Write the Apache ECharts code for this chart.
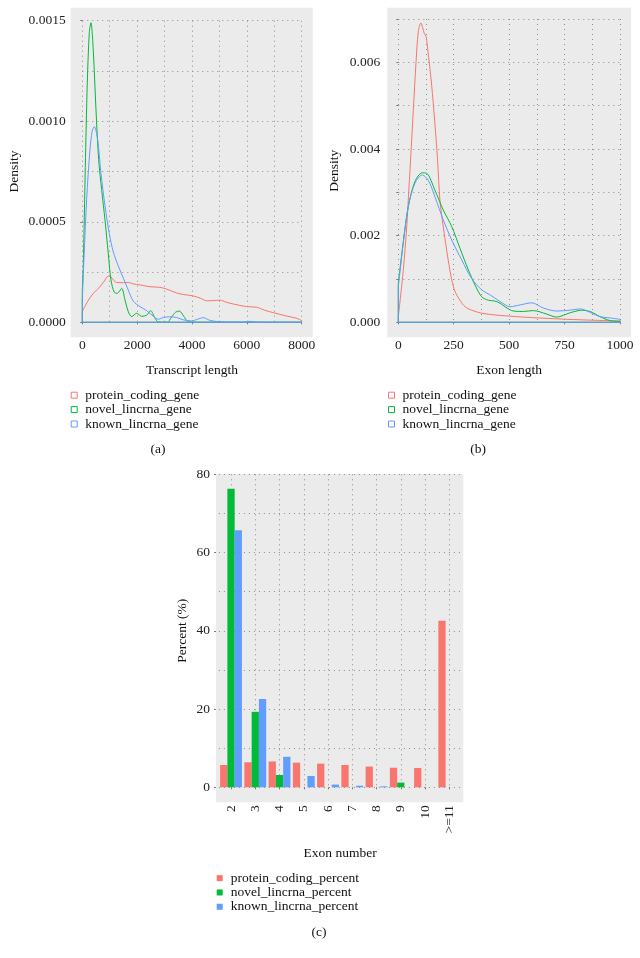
<!DOCTYPE html>
<html><head><meta charset="utf-8">
<script src="https://cdn.jsdelivr.net/npm/echarts@6/dist/echarts.min.js"></script>
<style>html,body{margin:0;padding:0;background:#fff}#c{width:640px;height:958px}</style>
</head><body><div id="c"></div>
<script>
// ---------- DATA ----------
const densityNames = ['protein_coding_gene', 'novel_lincrna_gene', 'known_lincrna_gene'];
const barNames = ['protein_coding_percent', 'novel_lincrna_percent', 'known_lincrna_percent'];

// (a) Transcript length density  [length, density]
const transcriptProtein = [[0,0.000053],[200,0.000105],[401,0.000144],[644,0.000177],[800,0.000205],[948,0.00023],[1050,0.000225],[1150,0.000208],[1254,0.000198],[1495,0.000197],[1677,0.000198],[1860,0.000191],[2104,0.000186],[2468,0.000177],[2833,0.000174],[3076,0.000165],[3441,0.000146],[3700,0.000138],[4048,0.000131],[4300,0.00012],[4535,0.000107],[4780,0.000108],[5020,0.00011],[5250,0.0001],[5505,0.000091],[5993,0.000078],[6358,0.000075],[6650,0.00006],[6963,0.000048],[7451,0.000031],[7816,0.00002],[8000,0.000008]];
const transcriptNovel = [[0,0.00016],[36,0.00028],[109,0.00077],[182,0.00119],[255,0.00144],[316,0.00149],[401,0.00135],[498,0.00106],[596,0.00081],[705,0.00066],[827,0.00051],[948,0.00034],[1046,0.00021],[1167,0.000149],[1277,0.000144],[1435,0.000169],[1556,0.000111],[1678,0.000053],[1800,0.000028],[1982,0.000045],[2164,0.00003],[2347,0.000035],[2492,0.000058],[2650,0.00002],[2772,0.000002],[3100,0],[3250,0.000025],[3400,0.00005],[3537,0.000056],[3700,0.00003],[3870,0.000002],[4200,0],[8000,0]];
const transcriptKnown = [[0,0.00011],[40,0.00025],[158,0.00061],[280,0.00086],[360,0.00095],[438,0.000973],[559,0.00091],[681,0.00074],[827,0.00058],[985,0.00044],[1131,0.00035],[1313,0.00028],[1495,0.00022],[1678,0.00016],[1860,0.000105],[2104,0.000078],[2347,0.000058],[2590,0.00003],[2772,0.000015],[2954,0.000024],[3200,0.000027],[3440,0.000024],[3684,0.000012],[3988,0.000007],[4200,0.000015],[4413,0.000023],[4650,0.00001],[4900,0.000004],[5300,0.000001],[5900,0.000001],[6114,0.000005],[6358,0.000001],[8000,0]];

// (b) Exon length density  [length, density]
const exonProtein = [[0,0.00013],[22.5,0.0012],[38,0.0022],[48,0.0031],[56,0.0038],[67.7,0.0049],[80,0.006],[90,0.0067],[102,0.00691],[110,0.0068],[117,0.00667],[125,0.0066],[135,0.0062],[150,0.0055],[165,0.0046],[177,0.00375],[188,0.0028],[203,0.0022],[225,0.00144],[241,0.00098],[256,0.00071],[278,0.00051],[301,0.00036],[331,0.00028],[376,0.00021],[436,0.00017],[481,0.00015],[564,0.00012],[714,0.00008],[865,0.00005],[1000,0.00003]];
const exonNovel = [[0,0.0009],[22.5,0.00186],[45,0.00267],[75,0.00325],[108,0.00345],[128,0.00344],[165,0.00305],[203,0.00259],[241,0.00221],[278,0.00171],[316,0.00121],[346,0.00086],[376,0.00059],[406,0.00051],[436,0.00049],[459,0.00044],[481,0.00036],[519,0.00026],[564,0.00025],[609,0.00027],[669,0.00019],[714,0.00012],[775,0.00022],[828,0.00028],[865,0.00025],[910,0.00013],[955,0.00004],[1000,0.00002]];
const exonKnown = [[0,0.00082],[22.5,0.00182],[45,0.00267],[75,0.00321],[108,0.0034],[135,0.00328],[165,0.0029],[203,0.00236],[241,0.0019],[286,0.00144],[331,0.00101],[376,0.00075],[421,0.00061],[459,0.00048],[504,0.00036],[549,0.0004],[602,0.00045],[654,0.00033],[714,0.00026],[775,0.00028],[820,0.00031],[865,0.00023],[910,0.00013],[955,0.0001],[1000,0.00007]];

// (c) Exon number percentages
const exonCategories = ['2','3','4','5','6','7','8','9','10','>=11'];
const proteinPercent = [5.7, 6.4, 6.6, 6.3, 6.05, 5.7, 5.3, 5.0, 4.95, 42.6];
const novelPercent   = [76.3, 19.3, 3.15, 0, 0, 0, 0, 1.2, 0, 0];
const knownPercent   = [65.7, 22.6, 7.8, 2.9, 0.7, 0.4, 0.25, 0, 0, 0];

// tick labels
const transcriptTicks = [0, 2000, 4000, 6000, 8000];
const densityTicksA = [0, 0.0005, 0.0010, 0.0015];
const exonLengthTicks = [0, 250, 500, 750, 1000];
const densityTicksB = [0, 0.002, 0.004, 0.006];
const densityTopB = 0.007;
const percentTicks = [0, 20, 40, 60, 80];

// ---------- STYLE ----------
const FONT = 'Liberation Serif';
const FS = 13.5;
const COLORS = ['#F8766D', '#00BA38', '#619CFF'];
const BG = '#EBEBEB';
const dotted = {show: true, lineStyle: {color: '#8c8c8c', width: 1, type: [1, 4]}};
const tickLbl = {fontFamily: FONT, fontSize: FS, color: '#222'};
const nameTxt = {fontFamily: FONT, fontSize: FS, color: '#111'};
const plain = v => String(v);

function valueAxis(o) {
  return Object.assign({
    type: 'value',
    axisLine: {show: false},
    axisTick: {show: true, length: 2, lineStyle: {color: '#777'}},
    minorTick: {show: false, splitNumber: 2},
    splitLine: dotted,
    minorSplitLine: dotted,
    nameLocation: 'middle',
    nameTextStyle: nameTxt
  }, o);
}

const densitySets = [
  [transcriptProtein, transcriptNovel, transcriptKnown],
  [exonProtein, exonNovel, exonKnown]
];

const series = [];
densitySets.forEach((sets, gi) => {
  sets.forEach((pts, i) => {
    series.push({
      type: 'line', name: densityNames[i], xAxisIndex: gi, yAxisIndex: gi,
      data: pts, showSymbol: false, symbol: 'none', smooth: 0.3, clip: false,
      lineStyle: {color: COLORS[i], width: 1}, itemStyle: {color: COLORS[i]},
      silent: true, z: 2 + i
    });
    const first = pts[0], last = pts[pts.length - 1];
    series.push({
      type: 'line', name: densityNames[i], xAxisIndex: gi, yAxisIndex: gi,
      data: [[first[0], first[1]], [first[0], 0], [last[0], 0], [last[0], last[1]]],
      showSymbol: false, symbol: 'none', clip: false,
      lineStyle: {color: COLORS[i], width: 1}, itemStyle: {color: COLORS[i]},
      silent: true, z: 2 + i
    });
  });
});
[proteinPercent, novelPercent, knownPercent].forEach((vals, i) => {
  series.push({
    type: 'bar', name: barNames[i], xAxisIndex: 2, yAxisIndex: 2,
    data: vals, barGap: '0%', barCategoryGap: '10%',
    itemStyle: {color: COLORS[i]}, silent: true
  });
});

const hollowLegend = (left) => ({
  orient: 'vertical', left: left, top: 388, padding: 0, itemGap: 0,
  icon: 'rect', itemWidth: 6, itemHeight: 6, selectedMode: false,
  textStyle: {fontFamily: FONT, fontSize: FS, color: '#111', lineHeight: 14.4, padding: [0, 0, 0, 3]},
  data: densityNames.map((n, i) => ({name: n, icon: 'rect',
    itemStyle: {color: 'rgba(0,0,0,0)', borderColor: COLORS[i], borderWidth: 1}}))
});

const option = {
  animation: false,
  backgroundColor: '#fff',
  grid: [
    {left: 82.3, top: 20.7, width: 219.4, height: 301.6, outerBoundsMode: 'none'},
    {left: 398.3, top: 19, width: 221.7, height: 303.3, outerBoundsMode: 'none'},
    {left: 218.9, top: 474.3, width: 242.5, height: 313, outerBoundsMode: 'none'}
  ],
  xAxis: [
    valueAxis({gridIndex: 0, min: transcriptTicks[0], max: transcriptTicks[transcriptTicks.length - 1],
      interval: transcriptTicks[1] - transcriptTicks[0], offset: 15,
      axisLabel: Object.assign({margin: 1, formatter: plain}, tickLbl),
      name: 'Transcript length', nameGap: 26}),
    valueAxis({gridIndex: 1, min: exonLengthTicks[0], max: exonLengthTicks[exonLengthTicks.length - 1],
      interval: exonLengthTicks[1] - exonLengthTicks[0], offset: 15,
      axisLabel: Object.assign({margin: 1, formatter: plain}, tickLbl),
      name: 'Exon length', nameGap: 26}),
    {type: 'category', gridIndex: 2, data: exonCategories, offset: 14.9,
      axisLine: {show: false},
      axisTick: {show: true, alignWithLabel: true, length: 2, lineStyle: {color: '#777'}},
      splitLine: Object.assign({alignWithLabel: true}, dotted),
      axisLabel: Object.assign({rotate: 90, margin: 3, interval: 0}, tickLbl),
      name: 'Exon number', nameLocation: 'middle', nameGap: 44, nameTextStyle: nameTxt}
  ],
  yAxis: [
    valueAxis({gridIndex: 0, min: densityTicksA[0], max: densityTicksA[densityTicksA.length - 1],
      interval: densityTicksA[1] - densityTicksA[0], offset: 11.6,
      axisLabel: Object.assign({margin: 5, formatter: v => v.toFixed(4)}, tickLbl),
      name: 'Density', nameGap: 49, nameRotate: 90}),
    valueAxis({gridIndex: 1, min: densityTicksB[0], max: densityTopB,
      interval: (densityTicksB[1] - densityTicksB[0]) / 2, offset: 11.1,
      minorSplitLine: {show: false},
      axisLabel: Object.assign({margin: 7, formatter: v =>
        densityTicksB.some(t => Math.abs(t - v) < 1e-9) ? v.toFixed(3) : ''}, tickLbl),
      name: 'Density', nameGap: 46, nameRotate: 90}),
    valueAxis({gridIndex: 2, min: percentTicks[0], max: percentTicks[percentTicks.length - 1],
      interval: percentTicks[1] - percentTicks[0], offset: 2.9,
      axisLabel: Object.assign({margin: 6}, tickLbl),
      name: 'Percent (%)', nameGap: 26.8, nameRotate: 90})
  ],
  legend: [
    hollowLegend(70.7),
    hollowLegend(388),
    {orient: 'vertical', left: 216.7, top: 871, padding: 0, itemGap: 0,
      icon: 'rect', itemWidth: 6, itemHeight: 6, selectedMode: false,
      textStyle: {fontFamily: FONT, fontSize: FS, color: '#111', lineHeight: 14.3, padding: [0, 0, 0, 3]},
      data: barNames.map((n, i) => ({name: n, itemStyle: {color: COLORS[i]}}))}
  ],
  graphic: [
    {type: 'rect', z: -100, silent: true, shape: {x: 70.7, y: 7.7, width: 242, height: 329.6}, style: {fill: BG}},
    {type: 'rect', z: -100, silent: true, shape: {x: 387.2, y: 7.7, width: 243.9, height: 329.6}, style: {fill: BG}},
    {type: 'rect', z: -100, silent: true, shape: {x: 216, y: 473.9, width: 247.3, height: 328.3}, style: {fill: BG}},
    {type: 'text', x: 158, y: 449, style: {text: '(a)', fontFamily: FONT, fontSize: FS, fill: '#111', align: 'center', verticalAlign: 'middle'}},
    {type: 'text', x: 478, y: 449, style: {text: '(b)', fontFamily: FONT, fontSize: FS, fill: '#111', align: 'center', verticalAlign: 'middle'}},
    {type: 'text', x: 319, y: 932, style: {text: '(c)', fontFamily: FONT, fontSize: FS, fill: '#111', align: 'center', verticalAlign: 'middle'}}
  ],
  series: series
};

const chart = echarts.init(document.getElementById('c'), null, {renderer: 'canvas'});
chart.setOption(option);
</script></body></html>
